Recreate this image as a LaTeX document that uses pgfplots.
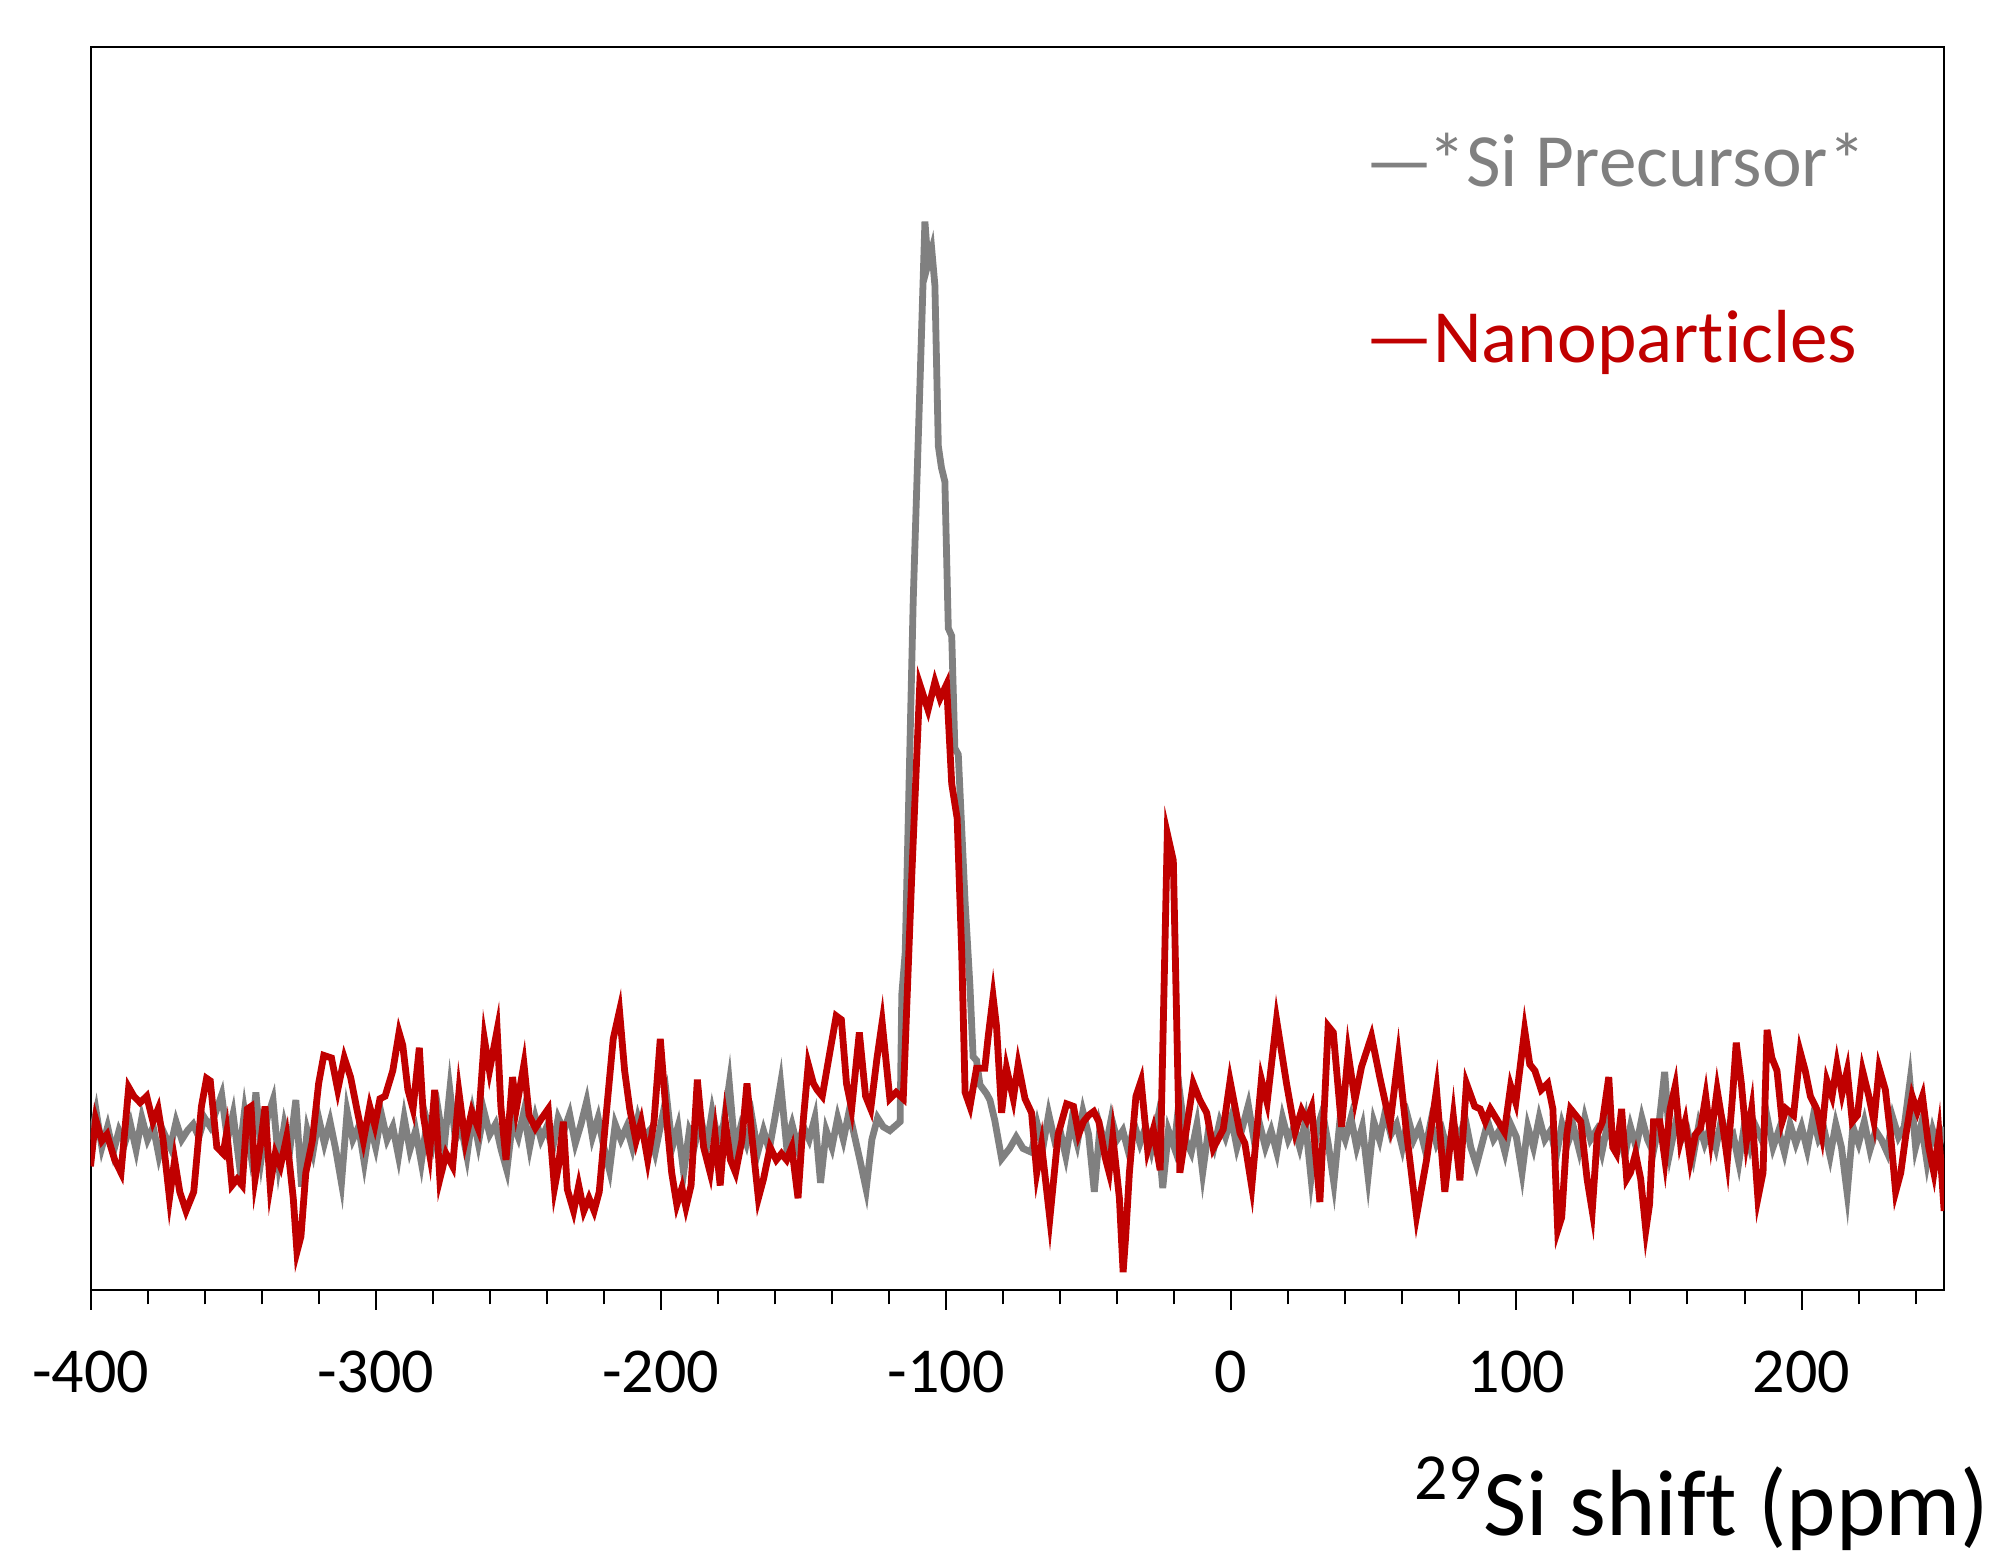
\documentclass[border=0pt]{standalone}
\usepackage{pgfplots}
\pgfplotsset{compat=1.18}
\usepackage{fontspec}
\setmainfont{Carlito}[Ligatures={NoCommon}]
\definecolor{sigray}{RGB}{128,128,128}
\definecolor{nanored}{RGB}{192,0,0}
\begin{document}
\begin{tikzpicture}
\begin{axis}[
  at={(0,0)}, anchor=south west,
  scale only axis, width=463.4pt, height=310.75pt,
  xmin=-400, xmax=250, ymin=0, ymax=975,
  xtick={-400,-300,-200,-100,0,100,200},
  xticklabels={-400,-300,-200,-100,0,100,200},
  minor xtick={-380,-360,...,240},
  ytick=\empty,
  xtick pos=bottom,
  tick align=outside,
  major tick length=5pt, minor tick length=3.6pt,
  every tick/.style={black, line width=0.5pt},
  axis line style={black, line width=0.5pt},
  xticklabel style={font=\fontsize{16}{19}\selectfont, yshift=-6.8pt},
  xlabel={\textsuperscript{29}Si shift (ppm)},
  xlabel style={at={(axis description cs:0.714,0)}, anchor=base west, inner sep=0pt, yshift=-61.3pt, font=\fontsize{23.5}{28}\selectfont},
]
\addplot[sigray, line width=1.7pt] table {
x y
-400 118
-398 140
-396 112
-394 128
-392 108
-390 125
-388 115
-386 130
-384 110
-382 135
-380 118
-378 128
-376 105
-374 122
-372 112
-370 132
-368 118
-366 125
-364 130
-362 120
-360 135
-358 128
-356 140
-354 153
-352 118
-350 138
-348 102
-346 140
-344 110
-342 155
-340 105
-338 135
-336 149
-334 100
-332 130
-330 112
-328 149
-326 81
-324 125
-322 108
-320 135
-318 115
-316 132
-314 110
-312 84
-310 140
-308 118
-306 128
-304 100
-302 130
-300 112
-298 138
-296 118
-294 128
-292 105
-290 135
-288 110
-286 125
-284 100
-282 132
-280 115
-278 140
-276 112
-274 157
-272 118
-270 128
-268 105
-266 138
-264 115
-262 140
-260 122
-258 130
-256 110
-254 94
-252 132
-250 120
-248 140
-246 112
-244 135
-242 118
-240 128
-238 110
-236 135
-234 125
-232 138
-230 115
-228 130
-226 148
-224 120
-222 135
-220 112
-218 94
-216 130
-214 118
-212 128
-210 112
-208 135
-206 120
-204 125
-202 108
-200 130
-198 152
-196 112
-194 128
-192 92
-190 125
-188 115
-186 135
-184 112
-182 140
-180 118
-178 130
-176 162
-174 110
-172 128
-170 115
-168 135
-166 108
-164 125
-162 110
-160 135
-158 162
-156 115
-154 130
-152 112
-150 128
-148 118
-146 135
-144 84
-142 125
-140 112
-138 135
-136 118
-134 140
-132 120
-130 100
-128 79
-126 118
-124 135
-122 128
-119.7 125
-116.1 132
-115.5 232
-114.3 265
-111.5 541
-109.2 706
-107.4 838
-106.3 805
-105.0 816
-103.9 788
-102.7 662
-101.6 645
-100.4 634
-99.2 519
-98.0 513
-96.9 425
-95.7 420
-93.3 304
-91.6 238
-90.5 183
-89.3 180
-88.1 161
-85.8 154
-84.6 149
-82.9 133
-80.5 103
-77.7 111
-75.4 120
-73.0 111
-70 108
-68 130
-66 112
-64 138
-62 118
-60 125
-58 105
-56 132
-54 115
-52 140
-50 122
-48 77
-46 128
-44 112
-42 135
-40 118
-38 125
-36 108
-34 130
-32 115
-30 128
-28 110
-26 132
-24 80
-22 125
-20 112
-18 154
-16 118
-14 108
-12 130
-10 92
-8 125
-6 112
-4 132
-2 120
0 135
2 112
4 128
6 145
8 118
10 130
12 112
14 125
16 108
18 135
20 118
22 128
24 112
26 132
28 88
30 125
32 140
34 115
36 84
38 130
40 118
42 135
44 112
46 128
48 89
50 132
52 118
54 140
56 122
58 130
60 112
62 135
64 118
66 128
68 110
70 132
72 115
74 125
76 108
78 130
80 118
82 135
84 112
86 98
88 115
90 132
92 118
94 125
96 108
98 130
100 120
102 92
104 128
106 112
108 135
110 118
112 125
114 105
116 130
118 115
120 128
122 110
124 135
126 118
128 125
130 108
132 130
134 115
136 122
138 105
140 128
142 112
144 135
146 118
148 108
150 130
152 171
154 110
156 132
158 118
160 125
162 105
164 130
166 115
168 128
170 112
172 135
174 118
176 122
178 100
180 130
182 112
184 128
186 118
188 135
190 112
192 125
194 108
196 130
198 115
200 128
202 110
204 135
206 118
208 125
210 105
212 130
214 112
216 76
218 128
220 115
222 132
224 110
226 125
228 118
230 108
232 135
234 120
236 128
238 163
240 112
242 130
244 100
246 125
248 110
250 128
};
\addplot[nanored, line width=1.7pt] table {
x y
-400 97
-398.2 134
-396.0 117
-394.2 122
-391.5 102
-389.3 92
-386.6 159
-384.8 152
-382.6 147
-380.3 152
-378.1 132
-376.3 142
-374.5 117
-372.3 72
-370.5 102
-368.7 77
-366.5 62
-363.8 77
-361.1 144
-359.3 166
-358.0 164
-355.7 112
-353.5 107
-352.2 124
-350.4 82
-348.6 87
-346.8 82
-345.0 142
-343.7 144
-342.3 87
-340.5 112
-338.8 144
-337.0 82
-335.2 107
-333.4 97
-331.2 120
-328.9 72
-327.6 30
-326.2 42
-324.5 92
-322.2 117
-320.0 162
-318.2 184
-315.5 182
-313.3 157
-311.0 182
-308.8 167
-306.6 142
-304.3 117
-302.1 144
-300.3 129
-298.5 150
-296.7 152
-294.0 172
-291.8 202
-290.5 192
-288.7 157
-286.9 142
-284.7 190
-283.3 137
-281.1 107
-279.3 157
-277.5 87
-275.3 107
-273.0 97
-270.8 155
-268.6 117
-266.3 140
-264.1 127
-261.9 197
-260.1 172
-257.4 204
-256.1 144
-254.3 102
-252.0 167
-250.7 142
-248.0 177
-246.2 137
-244.0 127
-241.7 135
-239.5 142
-237.3 80
-235.9 97
-234.2 132
-232.8 79
-230.6 62
-228.8 82
-227.0 62
-225.2 72
-223.4 62
-221.6 77
-219.4 132
-216.7 197
-214.5 219
-212.7 172
-210.9 142
-208.7 117
-206.9 132
-204.6 102
-202.4 132
-200.2 197
-197.9 132
-196.2 92
-194.4 67
-192.6 80
-191.2 65
-189.4 82
-187.2 165
-185.0 112
-182.7 92
-181.0 122
-179.2 82
-177.4 132
-175.6 102
-173.8 92
-171.6 117
-169.8 162
-168.0 119
-165.8 72
-164.0 87
-161.7 112
-159.5 102
-157.7 107
-155.9 102
-154.1 112
-151.9 72
-150.1 132
-148.3 177
-146.5 162
-145.2 157
-143.4 152
-140.7 187
-138.5 215
-136.7 212
-134.9 162
-133.1 142
-130.4 202
-128.2 152
-126.4 142
-124.2 182
-122.4 210
-119.7 150
-117.5 155
-115.0 150
-112.1 320
-109.2 475
-106.3 455
-103.9 477
-102.1 464
-99.8 475
-98.0 397
-96.1 370
-94.5 265
-93.3 155
-91.6 144
-89.3 174
-86.4 174
-85.2 199
-83.5 230
-82.3 207
-80.5 139
-78.8 174
-76.4 150
-74.7 177
-72.3 150
-70.0 139
-68.2 92
-66.5 114
-63.6 56
-60.7 122
-57.7 146
-55.3 144
-53.5 122
-51.8 132
-50.0 137
-48.2 140
-46.4 132
-44.2 104
-42.8 92
-41.5 120
-39.2 72
-37.9 14
-37.0 42
-35.7 92
-33.4 152
-31.6 164
-29.3 110
-27.3 126
-24.9 94
-22.4 358
-20.3 337
-18.0 92
-13.3 162
-11.0 149
-8.6 139
-6.3 111
-2.8 126
-0.4 164
3.1 123
4.8 115
7.2 81
10.6 165
12.6 147
15.9 212
19.4 162
22.4 124
24.7 141
26.5 133
28.2 143
31.1 69
34.0 207
35.8 202
38.7 128
41.0 186
43.4 149
45.7 175
49.2 199
52.1 167
55.7 130
58.6 183
61.5 123
65.0 58
68.5 102
72.0 157
74.9 77
77.9 136
80.2 86
82.5 162
85.4 144
87.3 142
89.1 132
90.9 142
93.1 134
95.8 124
98.0 160
99.8 147
101.6 180
102.9 204
104.7 177
106.5 172
108.7 157
111.0 162
112.8 142
114.5 47
115.9 57
117.7 122
119.0 142
120.8 137
122.6 132
124.8 87
126.6 62
128.4 122
130.2 132
132.4 167
133.8 112
135.1 107
136.9 142
138.7 87
140.0 92
141.8 107
143.6 87
145.4 47
146.7 67
148.1 132
150.3 132
152.1 102
153.9 142
155.7 160
157.5 117
159.2 132
161.0 102
162.8 122
164.6 127
166.4 152
168.2 119
170.4 157
172.2 132
174.0 102
175.8 152
177.1 194
178.9 162
180.7 117
182.5 142
184.7 72
186.5 92
187.9 204
189.6 182
191.4 172
193.2 132
194.6 142
197.2 137
199.5 187
201.3 172
203.1 152
205.3 142
207.1 122
208.9 164
210.7 152
212.4 177
214.2 154
216.0 172
217.8 132
219.6 137
221.4 172
223.6 152
225.4 132
227.2 174
229.4 157
231.2 122
233.0 77
234.8 92
236.6 122
238.8 152
240.6 140
242.4 152
244.6 112
246.4 92
248.2 122
250 62
};
\node[anchor=base west, inner sep=0pt, text=sigray, font=\fontsize{18.8}{22}\selectfont] at (axis description cs:0.6873,0.8874) {—\kern-0.06em*Si Precursor*};
\node[anchor=base west, inner sep=0pt, text=nanored, font=\fontsize{18.8}{22}\selectfont] at (axis description cs:0.6873,0.7458) {—Nanoparticles};
\end{axis}
\pgfresetboundingbox
\path[use as bounding box] (-22.625pt,-67pt) rectangle (477.125pt,322.5pt);
\end{tikzpicture}
\end{document}
